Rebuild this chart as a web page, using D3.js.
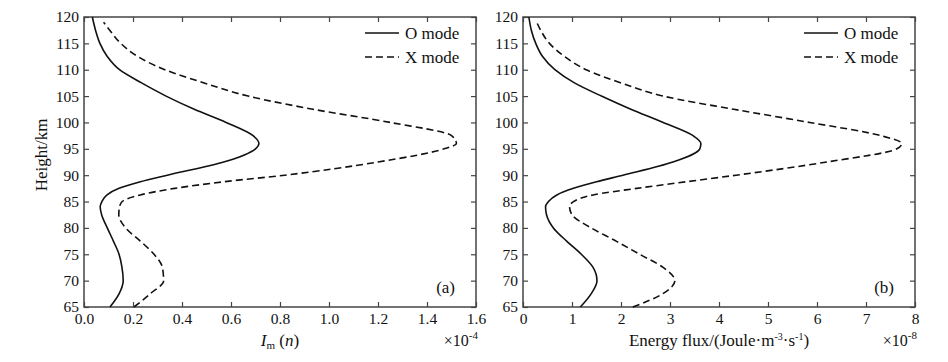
<!DOCTYPE html>
<html><head><meta charset="utf-8">
<script src="https://cdn.jsdelivr.net/npm/d3@7"></script>
<style>
body{margin:0;background:#fff}
svg{font-family:"Liberation Serif","Times New Roman",serif;}
</style>
</head><body>
<svg id="c" width="948" height="362"></svg>
<script>
// Heights (km)
const heightsO = [65,67.5,70,72.5,75,77.5,80,82.5,84,85,86.25,87.5,88.75,90,92.5,95,96,97.5,100,102.5,105,107.5,110,112.5,115,117.5,120];
const heightsX = [65,67.5,70,72.5,75,77.5,80,82.5,84,85,86.25,87.5,88.75,90,92.5,95,96,97.5,100,102.5,105,107.5,110,112.5,115,117.5,119];
// Panel (a): Im(n), x 1e-4
const imO = [0.106,0.143,0.16,0.155,0.143,0.12,0.095,0.072,0.066,0.073,0.094,0.143,0.23,0.34,0.57,0.70,0.714,0.69,0.58,0.45,0.335,0.235,0.145,0.095,0.065,0.047,0.034];
const imX = [0.204,0.27,0.325,0.32,0.286,0.23,0.17,0.142,0.145,0.156,0.23,0.37,0.57,0.82,1.2,1.47,1.52,1.50,1.25,0.935,0.67,0.49,0.33,0.22,0.15,0.105,0.08];
// Panel (b): Energy flux, x 1e-8
const fluxO = [1.17,1.39,1.51,1.43,1.19,0.89,0.62,0.48,0.46,0.52,0.69,1.03,1.5,2.04,3.06,3.61,3.63,3.47,2.86,2.2,1.6,1.05,0.65,0.4,0.26,0.17,0.12];
const fluxX = [2.24,2.85,3.1,2.86,2.38,1.9,1.39,1.0,0.95,1.03,1.43,2.32,3.33,4.35,6.2,7.63,7.73,7.3,5.85,4.3,2.86,2.0,1.29,0.85,0.54,0.36,0.28];
// Ticks
const yTicks = [65,70,75,80,85,90,95,100,105,110,115,120];
const xTicksA = [0,0.2,0.4,0.6,0.8,1,1.2,1.4,1.6];
const xTicksB = [0,1,2,3,4,5,6,7,8];
const seriesNames = ["O mode","X mode"];
const panelLetters = ["(a)","(b)"];
const exponents = ["-4","-8"];

const svg = d3.select("#c");
const yTop = 17, yBottom = 307;
const y = d3.scaleLinear().domain([65,120]).range([yBottom, yTop]);

function panel(left, right, xDomain, xTicks, oVals, xVals, letter, expo, labelFn){
  const x = d3.scaleLinear().domain(xDomain).range([left, right]);
  const g = svg.append("g");
  const axColor = "#444";
  const ax = (gen) => gen.tickSizeInner(-5).tickSizeOuter(0);
  const gl = g.append("g").attr("transform",`translate(${left},0)`)
    .call(ax(d3.axisLeft(y).tickValues(yTicks).tickPadding(5)));
  const gb = g.append("g").attr("transform",`translate(0,${yBottom})`)
    .call(ax(d3.axisBottom(x).tickValues(xTicks).tickPadding(6)));
  const gt = g.append("g").attr("transform",`translate(0,${yTop})`)
    .call(ax(d3.axisTop(x).tickValues(xTicks).tickFormat("")));
  const gr = g.append("g").attr("transform",`translate(${right},0)`)
    .call(ax(d3.axisRight(y).tickValues(yTicks).tickFormat("")));
  [gl,gb,gt,gr].forEach(a=>{
    a.select(".domain").remove();
    a.selectAll("line").attr("stroke",axColor).attr("stroke-width",1.2);
    a.selectAll("text").attr("font-size",15.5).attr("fill","#111")
      .attr("font-family",'"Liberation Serif","Times New Roman",serif');
  });
  g.append("rect").attr("x",left).attr("y",yTop).attr("width",right-left).attr("height",yBottom-yTop)
    .attr("fill","none").attr("stroke",axColor).attr("stroke-width",1.5);

  const line = (vals, hs) => d3.line().x((d,i)=>x(vals[i])).y((d,i)=>y(hs[i])).curve(d3.curveMonotoneY)(hs);
  g.append("path").attr("d", line(oVals, heightsO)).attr("fill","none").attr("stroke","#111").attr("stroke-width",1.6);
  g.append("path").attr("d", line(xVals, heightsX)).attr("fill","none").attr("stroke","#111").attr("stroke-width",1.6)
    .attr("stroke-dasharray","7,4");

  const lx1 = right - 111, lx2 = right - 77, tx = right - 71;
  [33,57].forEach((ly,i)=>{
    g.append("line").attr("x1",lx1).attr("x2",lx2).attr("y1",ly).attr("y2",ly)
      .attr("stroke","#111").attr("stroke-width",1.6).attr("stroke-dasharray", i ? "7,4" : null);
    g.append("text").attr("x",tx).attr("y",ly+5.5).attr("font-size",17).attr("fill","#111").text(seriesNames[i]);
  });
  g.append("text").attr("x",right-21).attr("y",293).attr("text-anchor","end").attr("font-size",17).attr("fill","#111").text(letter);
  const e = g.append("text").attr("x",right+2).attr("y",346).attr("text-anchor","end").attr("font-size",16).attr("fill","#111");
  e.append("tspan").text("×10");
  e.append("tspan").attr("font-size",11).attr("dy",-7).text(expo);
  const xl = g.append("text").attr("x",(left+right)/2).attr("y",346).attr("text-anchor","middle").attr("font-size",17).attr("fill","#111");
  labelFn(xl);
}

panel(84, 476, [0,1.6], xTicksA, imO, imX, panelLetters[0], exponents[0], t=>{
  t.append("tspan").attr("font-style","italic").text("I");
  t.append("tspan").attr("font-size",11).attr("dy",3).text("m");
  t.append("tspan").attr("dy",-3).text(" (");
  t.append("tspan").attr("font-style","italic").text("n");
  t.append("tspan").text(")");
});
panel(523, 915, [0,8], xTicksB, fluxO, fluxX, panelLetters[1], exponents[1], t=>{
  t.append("tspan").text("Energy flux/(Joule·m");
  t.append("tspan").attr("font-size",10).attr("dy",-6).text("-3");
  t.append("tspan").attr("dy",6).text("·s");
  t.append("tspan").attr("font-size",10).attr("dy",-6).text("-1");
  t.append("tspan").attr("dy",6).text(")");
});

svg.append("text").attr("transform","translate(47,155) rotate(-90)").attr("text-anchor","middle")
  .attr("font-size",17).attr("fill","#111").text("Height/km");
</script>
</body></html>
